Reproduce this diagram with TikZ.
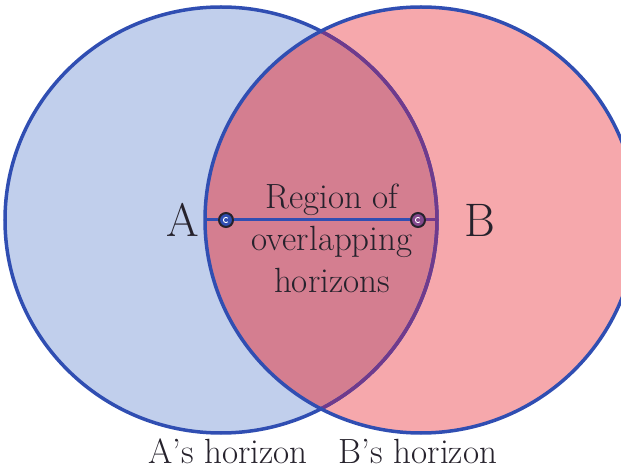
\documentclass[tikz,border=0pt]{standalone}
\usepackage{fontspec}
\definecolor{hzblue}{RGB}{48,78,178}
\definecolor{hzsky}{RGB}{193,207,236}
\definecolor{hzpink}{RGB}{246,168,172}
\definecolor{hzrose}{RGB}{212,126,144}
\definecolor{hzplum}{RGB}{112,58,140}
\definecolor{hzink}{RGB}{38,34,44}
\usetikzlibrary{positioning}

\begin{document}
\begin{tikzpicture}[x=1pt,y=-1pt,
  ptdot/.style={circle, draw=hzink, line width=2pt, minimum size=14pt, inner sep=0pt},
  bigtxt/.style={font=\fontsize{47}{52}\selectfont, text=hzink, inner sep=0pt},
  txt/.style={font=\fontsize{35}{42}\selectfont, text=hzink, inner sep=0pt, align=center}]
  \useasboundingbox (0,0) rectangle (621,470);

  %--- horizons ---
  \fill[hzsky] (221,220) ellipse [x radius=216, y radius=213];
  \fill[hzpink] (421,220) ellipse [x radius=216, y radius=213];
  \begin{scope}
    \clip (221,220) ellipse [x radius=216, y radius=213];
    \fill[hzrose] (421,220) ellipse [x radius=216, y radius=213];
  \end{scope}

  % outlines
  \draw[hzblue, line width=3.5pt] (221,220) ellipse [x radius=216, y radius=213];
  \begin{scope}
    \clip (421,220) ellipse [x radius=216, y radius=213];
    \draw[hzplum, line width=3.5pt] (221,220) ellipse [x radius=216, y radius=213];
  \end{scope}
  \draw[hzblue, line width=3.5pt] (421,220) ellipse [x radius=216, y radius=213];

  %--- observers ---
  \coordinate (bedge) at (205,220);
  \coordinate (aedge) at (437,220);
  \node[ptdot, fill=hzblue] (a) at (226,220) {};
  \node[ptdot, fill=hzplum!80!hzrose] (b) at (418,220) {};
  \draw[hzblue, line width=3pt] (bedge) -- (a) -- (b);
  \draw[hzplum, line width=3pt] (b) -- (aedge);
  \draw[white, line width=0.9pt] (a.center) ++(45:2.6) arc[start angle=45, end angle=315, radius=2.6];
  \draw[white, line width=0.9pt] (b.center) ++(45:2.6) arc[start angle=45, end angle=315, radius=2.6];

  % labels
  \node[bigtxt] (alabel) at (183,220) {A};
  \node[bigtxt] (blabel) at (480,220) {B};
  \node[txt] (region) at (332,238) {Region of\\overlapping\\horizons};
  \node[txt, anchor=base] (ahor) at (228,463) {A's horizon};
  \node[txt, anchor=base] (bhor) at (418,463) {B's horizon};
\end{tikzpicture}
\end{document}
